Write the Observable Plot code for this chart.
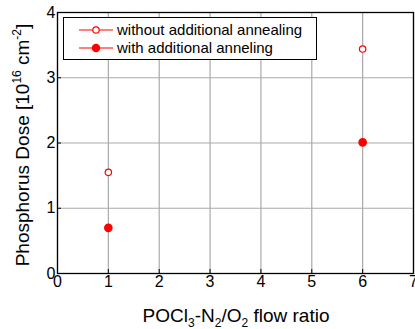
<!DOCTYPE html>
<html><head><meta charset="utf-8">
<script src="https://cdn.jsdelivr.net/npm/d3@7"></script>
<script src="https://cdn.jsdelivr.net/npm/@observablehq/plot@0.6"></script>
<style>body{margin:0;background:#fff}svg{font-family:"Liberation Sans",Arial,sans-serif}</style>
</head><body><div id="chart"></div>
<script>
const flowRatio = [1, 6];
const doseWithout = [1.55, 3.44];
const doseWith = [0.70, 2.01];
const seriesNames = ["without additional annealing", "with additional anneling"];
const xTicks = [0,1,2,3,4,5,6,7];
const yTicks = [0,1,2,3,4];

const data = [
  ...flowRatio.map((x,i)=>({x, y: doseWithout[i], s: seriesNames[0]})),
  ...flowRatio.map((x,i)=>({x, y: doseWith[i], s: seriesNames[1]}))
];

const W = 415, H = 329, mL = 57, mR = 2, mT = 12, mB = 56;
const plot = Plot.plot({
  width: W, height: H, marginLeft: mL, marginRight: mR, marginTop: mT, marginBottom: mB,
  style: {fontSize: "16px", fontFamily: "Liberation Sans, Arial, sans-serif", color: "#000", background: "#fff", overflow: "visible"},
  x: {domain: [0, 7], ticks: xTicks, label: null},
  y: {domain: [0, 4], ticks: yTicks, label: null},
  marks: [
    Plot.gridX(xTicks, {stroke: "#aaa", strokeOpacity: 1, strokeWidth: 1.2}),
    Plot.gridY(yTicks, {stroke: "#aaa", strokeOpacity: 1, strokeWidth: 1.2}),
    Plot.frame({stroke: "#000", strokeWidth: 1.3}),
    Plot.axisX(xTicks, {tickSize: -4, tickPadding: 6, stroke: "#000", fontSize: 16, tickFormat: d => String(d)}),
    Plot.axisY(yTicks, {tickSize: -4, tickPadding: 6, stroke: "#000", fontSize: 16, tickFormat: d => String(d)}),
    Plot.dot(data.filter(d=>d.s===seriesNames[0]), {x: "x", y: "y", r: 3.2, stroke: "red", fill: "white", strokeWidth: 1.2}),
    Plot.dot(data.filter(d=>d.s===seriesNames[1]), {x: "x", y: "y", r: 3.6, fill: "red", stroke: "red"})
  ]
});
document.getElementById("chart").appendChild(plot);

const svg = d3.select(plot);
// legend
const lg = svg.append("g").attr("text-anchor", "start");
lg.append("rect").attr("x", 63.5).attr("y", 17.5).attr("width", 253).attr("height", 42)
  .attr("fill", "#fff").attr("stroke", "#000").attr("stroke-width", 1);
seriesNames.forEach((name, i) => {
  const cy = 30 + i * 18;
  lg.append("line").attr("x1", 79).attr("x2", 113).attr("y1", cy).attr("y2", cy).attr("stroke", "red").attr("stroke-width", 1);
  lg.append("circle").attr("cx", 96).attr("cy", cy).attr("r", i === 0 ? 3.2 : 3.6)
    .attr("fill", i === 0 ? "#fff" : "red").attr("stroke", "red").attr("stroke-width", 1.2);
  lg.append("text").attr("x", 117).attr("y", cy).attr("dy", "0.35em").attr("font-size", 15).attr("fill", "#000").attr("text-anchor", "start").text(name);
});
// x label
const xl = svg.append("text").attr("x", 236).attr("y", 322).attr("text-anchor", "middle").attr("font-size", 19).attr("fill", "#000");
xl.append("tspan").text("POCl");
xl.append("tspan").attr("font-size", 12).attr("dy", 5).text("3");
xl.append("tspan").attr("dy", -5).text("-N");
xl.append("tspan").attr("font-size", 12).attr("dy", 5).text("2");
xl.append("tspan").attr("dy", -5).text("/O");
xl.append("tspan").attr("font-size", 12).attr("dy", 5).text("2");
xl.append("tspan").attr("dy", -5).text(" flow ratio");
// y label
const yl = svg.append("text").attr("transform", "translate(29,145) rotate(-90)").attr("text-anchor", "middle").attr("font-size", 19).attr("fill", "#000");
yl.append("tspan").text("Phosphorus Dose [10");
yl.append("tspan").attr("font-size", 12).attr("dy", -8).text("16");
yl.append("tspan").attr("dy", 8).text(" cm");
yl.append("tspan").attr("font-size", 12).attr("dy", -8).text("-2");
yl.append("tspan").attr("dy", 8).text("]");
</script></body></html>
